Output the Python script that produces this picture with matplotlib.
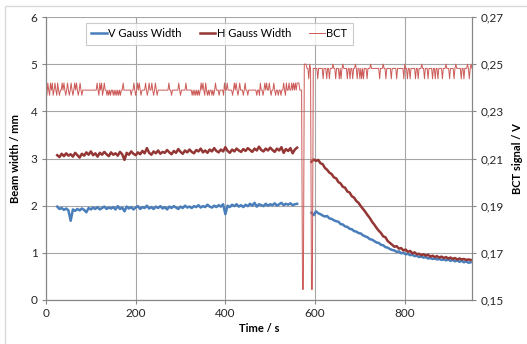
import numpy as np
import matplotlib
matplotlib.use('Agg')
import matplotlib.pyplot as plt
from matplotlib.patches import Rectangle

plt.rcParams['font.family'] = ['Lato', 'DejaVu Sans']

#### Beam width data (mm) ####################################################
t_before = np.arange(25, 561, 5)
v_before = [1.98, 1.93, 1.95, 1.91, 1.94, 1.90, 1.68, 1.92, 1.89, 1.93, 1.90, 1.94,
            1.91, 1.86, 1.95, 1.92, 1.96, 1.93, 1.97, 1.92, 1.95, 1.98, 1.93, 1.96,
            1.94, 1.97, 1.92, 1.99, 1.93, 1.96, 1.88, 1.98, 1.94, 1.97, 1.92, 1.96,
            1.99, 1.93, 1.97, 1.95, 2.00, 1.94, 1.97, 1.93, 1.98, 1.95, 1.99, 1.94,
            1.97, 1.92, 1.98, 1.95, 1.99, 1.96, 1.93, 1.98, 1.95, 2.00, 1.96, 1.98,
            1.95, 1.99, 1.97, 2.01, 1.96, 1.99, 1.97, 2.02, 1.98, 1.96, 2.00, 1.97,
            2.01, 1.98, 2.03, 1.82, 2.00, 1.97, 2.02, 1.99, 2.03, 1.98, 2.01, 1.97,
            2.02, 1.99, 2.04, 2.00, 2.06, 1.98, 2.03, 2.01, 1.99, 2.04, 2.00, 2.03,
            2.01, 2.05, 2.00, 2.03, 2.06, 2.01, 2.04, 2.02, 2.05, 2.01, 2.03, 2.04]
h_before = [3.07, 3.03, 3.10, 3.05, 3.11, 3.06, 3.09, 3.04, 3.12, 3.07, 3.02, 3.10,
            3.06, 3.13, 3.08, 3.15, 3.07, 3.11, 3.04, 3.12, 3.08, 3.14, 3.09, 3.05,
            3.13, 3.08, 3.11, 3.06, 3.14, 3.09, 2.97, 3.12, 3.08, 3.15, 3.10, 3.07,
            3.13, 3.09, 3.16, 3.11, 3.22, 3.12, 3.08, 3.15, 3.11, 3.17, 3.10, 3.14,
            3.12, 3.18, 3.13, 3.09, 3.16, 3.12, 3.20, 3.14, 3.10, 3.17, 3.13, 3.19,
            3.14, 3.11, 3.18, 3.15, 3.21, 3.13, 3.17, 3.12, 3.19, 3.15, 3.22, 3.16,
            3.13, 3.19, 3.15, 3.24, 3.16, 3.12, 3.19, 3.15, 3.21, 3.17, 3.14, 3.20,
            3.16, 3.22, 3.18, 3.14, 3.21, 3.17, 3.25, 3.18, 3.15, 3.21, 3.17, 3.23,
            3.18, 3.14, 3.21, 3.17, 3.24, 3.12, 3.20, 3.16, 3.22, 3.11, 3.19, 3.23]

t_after = np.arange(592, 948, 5)
v_after = [1.85, 1.80, 1.88, 1.84, 1.82, 1.79, 1.77, 1.78, 1.73, 1.72, 1.69, 1.67,
           1.66, 1.61, 1.60, 1.56, 1.55, 1.51, 1.50, 1.46, 1.45, 1.42, 1.41, 1.37,
           1.35, 1.33, 1.29, 1.28, 1.25, 1.22, 1.21, 1.17, 1.16, 1.12, 1.11, 1.08,
           1.06, 1.05, 1.02, 1.03, 0.99, 1.00, 0.97, 0.98, 0.95, 0.96, 0.93, 0.94,
           0.91, 0.92, 0.90, 0.91, 0.88, 0.89, 0.87, 0.88, 0.86, 0.87, 0.85, 0.86,
           0.84, 0.86, 0.83, 0.85, 0.82, 0.84, 0.81, 0.83, 0.80, 0.82, 0.79, 0.80]
h_after = [2.93, 2.98, 2.95, 2.97, 2.90, 2.88, 2.80, 2.76, 2.70, 2.67, 2.60, 2.58,
           2.50, 2.47, 2.40, 2.38, 2.30, 2.28, 2.20, 2.17, 2.10, 2.06, 1.99, 1.93,
           1.87, 1.80, 1.74, 1.66, 1.60, 1.53, 1.47, 1.42, 1.35, 1.33, 1.25, 1.21,
           1.17, 1.13, 1.14, 1.09, 1.10, 1.05, 1.07, 1.02, 1.04, 0.99, 1.01, 0.97,
           0.98, 0.95, 0.97, 0.94, 0.96, 0.92, 0.94, 0.91, 0.93, 0.90, 0.92, 0.89,
           0.91, 0.88, 0.90, 0.87, 0.89, 0.86, 0.88, 0.86, 0.87, 0.85, 0.86, 0.85]

#### BCT signal (V): baseline levels plus the spikes seen on the picture ######
bct_base_pre, bct_up_pre, bct_dn_pre = 0.2390, 0.2420, 0.2368
bct_base_post, bct_up_post, bct_dn_post = 0.2482, 0.2500, 0.2438
bct_low = 0.1545
bct_up_pre_t = [4, 10, 14, 20, 26, 36, 40, 48, 56, 64, 68, 76, 114, 120, 124, 130,
                172, 196, 204, 208, 222, 230, 236, 244, 274, 296, 312, 346, 350,
                356, 378, 398, 404, 420, 424, 432, 444, 478, 488, 492, 498, 508,
                530, 536, 542, 548, 552, 556, 560, 562, 564]
bct_dn_pre_t = [2, 8, 16, 24, 30, 44, 52, 60, 72, 80, 118, 126, 136, 140, 144, 150,
                154, 158, 162, 166, 190, 200, 212, 226, 240, 248, 280, 300, 326,
                330, 334, 338, 342, 354, 360, 364, 370, 374, 386, 396, 416, 428,
                440, 450, 470, 476, 484, 502, 512, 518, 524, 534]
bct_low_t = [572, 574, 592, 594]
bct_up_post_t = [576, 578, 580, 588, 640, 662, 690, 724, 752, 800, 838, 892, 914, 940, 948]
bct_dn_post_t = [586, 606, 618, 626, 632, 646, 654, 658, 672, 678, 684, 694, 700,
                 704, 708, 716, 744, 758, 770, 782, 798, 806, 812, 824, 830, 844,
                 852, 862, 868, 874, 884, 900, 910, 926, 932, 944]

t_bct = np.arange(0, 951, 2)
bct = np.where(t_bct < 571, bct_base_pre, bct_base_post)
for t in bct_up_pre_t:
    bct[t_bct == t] = bct_up_pre
for t in bct_dn_pre_t:
    bct[t_bct == t] = bct_dn_pre
for t in bct_up_post_t:
    bct[t_bct == t] = bct_up_post
for t in bct_dn_post_t:
    bct[t_bct == t] = bct_dn_post
for t in bct_low_t:
    bct[t_bct == t] = bct_low

x_ticks = [0, 200, 400, 600, 800]
y_ticks = [0, 1, 2, 3, 4, 5, 6]
y2_ticks = [0.15, 0.17, 0.19, 0.21, 0.23, 0.25, 0.27]

blue = '#4A7EBB'
dred = '#943634'
lred = '#CC5A57'
gridc = '#A6A6A6'

fig = plt.figure(figsize=(5.27, 3.44), dpi=100)
ax = fig.add_axes([46/527, 1 - 300/344, 426/527, 283/344])
ax2 = ax.twinx()

l1, = ax.plot(t_before, v_before, color=blue, lw=1.8, label='V Gauss Width')
ax.plot(t_after, v_after, color=blue, lw=1.8)
l2, = ax.plot(t_before, h_before, color=dred, lw=1.8, label='H Gauss Width')
ax.plot(t_after, h_after, color=dred, lw=1.8)
l3, = ax2.plot(t_bct, bct, color=lred, lw=0.7, label='BCT')

ax.set_xlim(0, 950)
ax.set_ylim(0, 6)
ax2.set_ylim(0.15, 0.27)
ax.set_xticks(x_ticks)
ax.set_yticks(y_ticks)
ax2.set_yticks(y2_ticks)
ax2.set_yticklabels([f'{v:.2f}'.replace('.', ',') for v in y2_ticks])

ax.grid(True, color=gridc, lw=0.8)
ax.set_axisbelow(True)
for a in (ax, ax2):
    for s in a.spines.values():
        s.set_color('#868686')
        s.set_linewidth(0.8)
    a.spines['top'].set_visible(False)
    a.tick_params(labelsize=8.5, length=3, width=0.8, color='#868686', pad=3,
                  labelcolor='#262626')

ax.set_xlabel('Time / s', fontsize=8, fontweight='bold', labelpad=3)
ax.set_ylabel('Beam width / mm', fontsize=8, fontweight='bold', labelpad=7)
ax2.set_ylabel('BCT signal / V', fontsize=8, fontweight='bold', labelpad=6)

leg = ax2.legend(handles=[l1, l2, l3], loc='upper left', bbox_to_anchor=(0.08, 1.0),
                 ncol=3, fontsize=8, frameon=True, fancybox=False, handlelength=1.4,
                 handletextpad=0.15, columnspacing=1.6, borderpad=0.5)
leg.get_frame().set_edgecolor('#BFBFBF')
leg.get_frame().set_linewidth(0.8)

# chart border: only the left and top edges fall inside the picture
fig.patches.append(Rectangle((5/527, -0.05), 1.0, 1 - 6/344 + 0.05,
                             transform=fig.transFigure, fill=False,
                             edgecolor='#D9D9D9', lw=1.0))

fig.savefig('out.png', dpi=100)
